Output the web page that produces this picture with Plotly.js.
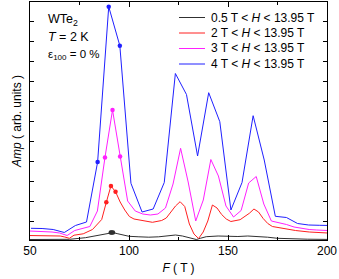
<!DOCTYPE html>
<html><head><meta charset="utf-8">
<script src="https://cdn.plot.ly/plotly-3.0.1.min.js"></script>
<style>html,body{margin:0;padding:0;background:#fff}#chart{width:339px;height:279px}</style>
</head><body><div id="chart"></div>
<script>
// ---- data ----
const seriesNames = ["0.5 T < <i>H</i> < 13.95 T", "2 T < <i>H</i> < 13.95 T", "3 T < <i>H</i> < 13.95 T", "4 T < <i>H</i> < 13.95 T"];

const F_05 = [50,60,70,78,84,87,89,90.3,90.8,91.3,91.9,94,97,100,105,110,115,120,123.5,127,130,132.5,134,136,139,145,150,155,160,165,170,175,180,190,200];
const A_05 = [0.025,0.025,0.035,0.115,0.225,0.285,0.335,0.36,0.37,0.375,0.37,0.32,0.25,0.185,0.16,0.14,0.16,0.21,0.25,0.2,0.12,0.05,0.025,0.085,0.165,0.2,0.185,0.175,0.2,0.185,0.14,0.085,0.06,0.04,0.03];
const dots_05 = [8,9,10];

const F_2 = [48.93,58.25,65.24,67.57,69.9,72.23,76.89,81.55,83.88,86.21,88.54,90.87,93.2,95.53,97.86,100.19,102.52,107.18,111.84,116.5,118.83,121.16,123.49,125.82,128.15,130.48,132.81,135.14,137.47,139.8,142.13,144.46,146.79,149.12,151.45,156.11,158.44,160.77,163.1,165.43,167.76,170.09,172.42,177.08,184.07,191.06,200.38];
const A_2 = [0.225,0.2,0.2,0.15,0.085,0.24,0.31,0.525,0.75,1.025,1.885,2.7,2.415,1.9,1.5,1.175,1.05,0.975,0.885,0.975,1.1,1.4,1.7,1.915,1.675,0.8,0.3,0.075,0.4,0.95,1.75,1.6,1.275,1.05,0.925,1.015,1.175,1.335,1.55,1.4,1.075,0.825,0.675,0.585,0.475,0.4,0.35];
const dots_2 = [10,11,12];

const F_3 = [49.66,53.48,57.3,61.12,64.94,68.76,72.58,76.4,80.22,84.04,87.86,91.68,95.5,99.32,103.14,106.96,110.78,114.6,118.42,122.24,126.06,129.88,133.7,137.52,141.34,145.16,148.98,152.8,156.62,160.44,164.26,168.08,171.9,175.72,179.54,183.36,187.18,191.0,194.82,198.64,202.46];
const A_3 = [0.45,0.435,0.415,0.4,0.35,0.225,0.475,0.575,0.675,1.45,4.125,6.5,4.175,1.95,1.45,1.3,1.25,1.3,1.6,2.8,4.585,2.9,0.95,2.0,4.025,3.2,1.7,1.15,1.475,2.85,3.175,1.8,0.95,0.875,0.775,0.65,0.575,0.525,0.5,0.475,0.465];
const dots_3 = [10,11,12];

const F_4 = [50.49,56.1,61.71,67.32,72.93,78.54,84.15,89.76,95.37,100.98,106.59,112.2,117.81,123.42,129.03,134.64,140.25,145.86,151.47,157.08,162.69,168.3,173.91,179.52,185.13,190.74,196.35,201.96];
const A_4 = [0.585,0.575,0.525,0.375,0.725,0.9,3.9,11.665,9.715,2.835,1.4,1.55,2.875,8.325,7.275,4.2,7.365,5.915,1.5,2.875,6.215,4.0,1.185,1.125,0.825,0.75,0.735,0.725];
const dots_4 = [6,7,8];

const xTickVals = [50,100,150,200];
const xTickText = ["50","100","150","200"];

// ---- styling ----
const colors = ["#303030","#ff2020","#ff20ff","#2020ff"];
const sets = [[F_05,A_05,dots_05],[F_2,A_2,dots_2],[F_3,A_3,dots_3],[F_4,A_4,dots_4]];
const FONT = "Liberation Sans, Arial, sans-serif";

const traces = [];
sets.forEach((s,k)=>{
  traces.push({x:s[0], y:s[1], type:"scatter", mode:"lines", name:seriesNames[k],
    line:{color:colors[k], width:1}, showlegend:false, hoverinfo:"skip"});
  traces.push({x:s[2].map(i=>s[0][i]), y:s[2].map(i=>s[1][i]), type:"scatter", mode:"markers",
    marker:{color:colors[k], size:4.5}, showlegend:false, hoverinfo:"skip", cliponaxis:false});
});

// plot area in pixels: x 30..327, y 2..240
const W=339,H=279,L=30,R=12,T=2,B=39;
const pw=W-L-R, ph=H-T-B;
const px2paper = px => (px-L)/pw;
const py2paper = py => (H-B-py)/ph;

const shapes=[], annotations=[];
const legendRows=[17.5,33,48.5,64];
seriesNames.forEach((nm,k)=>{
  shapes.push({type:"line", xref:"paper", yref:"paper",
    x0:px2paper(179), x1:px2paper(205), y0:py2paper(legendRows[k]), y1:py2paper(legendRows[k]),
    line:{color:colors[k], width:1}});
  annotations.push({xref:"paper", yref:"paper", x:px2paper(209), y:py2paper(legendRows[k]),
    xanchor:"left", yanchor:"middle", text:nm, showarrow:false,
    font:{family:FONT, size:12, color:"#000"}});
});
const infoText = ["WTe<sub>2</sub>","<i>T</i> = 2 K","ε<sub>100</sub> = 0 %"];
const infoRows = [20,37,55];
infoText.forEach((t,k)=>{
  annotations.push({xref:"paper", yref:"paper", x:px2paper(46), y:py2paper(infoRows[k]),
    xanchor:"left", yanchor:"middle", text:t, showarrow:false,
    font:{family:FONT, size:k==2?11.5:12.5, color:"#000"}});
});

const layout = {
  width:W, height:H, margin:{l:L, r:R, t:T, b:B, pad:0},
  paper_bgcolor:"#fff", plot_bgcolor:"#fff",
  font:{family:FONT, size:12, color:"#000"},
  showlegend:false,
  xaxis:{range:[50,200], tickmode:"array", tickvals:xTickVals, ticktext:xTickText,
    ticks:"inside", ticklen:5, tickwidth:1, tickcolor:"#000",
    minor:{tickmode:"linear", tick0:75, dtick:50, ticks:"inside", ticklen:3, tickcolor:"#000"},
    showline:true, linecolor:"#000", linewidth:1, mirror:"ticks",
    showgrid:false, zeroline:false, tickfont:{size:12, family:FONT},
    title:{text:"<i>F</i> ( T )", font:{size:12, family:FONT}, standoff:6}, automargin:false},
  yaxis:{range:[0,11.9], tick0:0.95, dtick:1, ticks:"inside", ticklen:4, tickcolor:"#000",
    showticklabels:false, showline:true, linecolor:"#000", linewidth:1, mirror:"ticks",
    showgrid:false, zeroline:false,
    title:{text:"<i>Amp</i> ( arb. units )", font:{size:12, family:FONT}, standoff:4}, automargin:false},
  shapes:shapes, annotations:annotations
};
Plotly.newPlot("chart", traces, layout, {staticPlot:true, displayModeBar:false});
</script></body></html>
